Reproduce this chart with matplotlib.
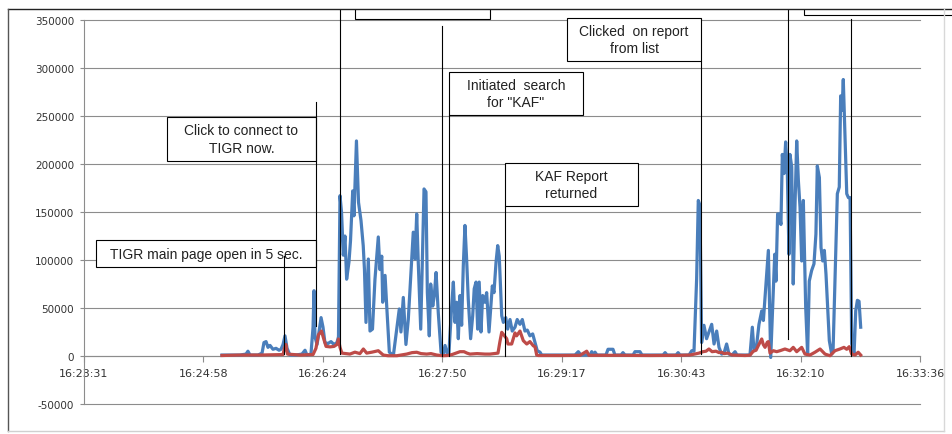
import matplotlib
matplotlib.use('Agg')
import matplotlib.pyplot as plt
from matplotlib.patches import Rectangle
from matplotlib.lines import Line2D

# time axis: seconds after 16:23:31
blue_t = [99.8, 112.9, 117.2, 118.6, 120.1, 125.9, 128.8, 130.2, 131.7, 133.1, 134.6, 136.7, 138.9, 141.1,
          142.5, 144.0, 145.4, 146.9, 149.0, 153.4, 157.7, 159.9, 161.3, 164.2, 165.7, 166.4, 167.1, 168.6,
          170.0, 171.5, 172.9, 174.3, 176.5, 178.7, 180.9, 183.0, 184.1, 185.2, 186.3, 187.6, 188.8, 190.0,
          191.7, 192.8, 194.4, 195.3, 197.1, 198.6, 200.4, 202.0, 202.9, 204.0, 205.7, 206.9, 208.7, 210.5,
          212.9, 214.1, 215.4, 216.1, 217.8, 219.0, 220.9, 223.8, 226.2, 228.1, 229.3, 231.0, 232.9, 234.6,
          237.0, 238.2, 239.5, 240.7, 241.8, 243.6, 246.0, 247.4, 248.4, 249.8, 250.8, 252.3, 253.4, 254.7,
          256.3, 258.3, 259.7, 261.2, 262.8, 264.0, 266.0, 267.2, 268.4, 269.6, 270.8, 272.0, 273.2, 274.4,
          275.6, 276.8, 278.0, 279.7, 281.2, 282.3, 283.6, 284.8, 285.9, 287.2, 288.4, 290.0, 291.3, 293.0,
          294.2, 295.4, 296.6, 298.1, 299.3, 300.4, 302.2, 303.4, 305.1, 306.5, 308.2, 309.8, 311.8, 313.4,
          315.4, 317.1, 319.0, 320.7, 322.6, 324.6, 326.3, 327.9, 329.9, 331.1, 355.2, 357.6, 359.5, 366.1,
          367.3, 368.2, 369.7, 371.1, 377.6, 379.1, 382.7, 384.1, 388.5, 389.9, 391.4, 397.2, 398.6, 402.2,
          403.7, 418.9, 420.4, 421.8, 428.3, 429.8, 431.2, 437.7, 439.7, 441.3, 443.2, 444.4, 445.6, 446.8,
          448.5, 450.4, 452.1, 454.1, 455.8, 457.7, 459.4, 461.3, 463.0, 464.9, 466.6, 468.8, 471.0, 472.4,
          481.8, 483.5, 484.7, 486.7, 488.3, 490.3, 491.5, 493.2, 495.1, 496.8, 498.2, 499.7, 500.6, 501.8,
          503.0, 504.2, 505.2, 506.4, 507.6, 508.8, 510.0, 510.7, 512.0, 513.1, 514.4, 515.6, 516.8, 518.0,
          519.2, 520.4, 522.1, 523.5, 524.7, 526.4, 528.1, 529.5, 530.5, 532.0, 533.2, 534.4, 535.6, 536.8,
          539.2, 540.9, 541.9, 543.3, 545.0, 546.4, 547.4, 548.4, 549.3, 550.6, 551.8, 553.0, 554.2, 555.4,
          557.1, 558.3, 559.5, 560.7, 561.9]
blue_v = [1000, 1000, 2000, 5000, 1000, 1000, 3000, 14000, 15000, 9000, 11000, 7000, 8000, 6000,
          7000, 12000, 21000, 8000, 1000, 1000, 2000, 6000, 1000, 2000, 30000, 68000, 20000, 12000,
          25000, 40000, 30000, 14000, 13000, 15000, 12000, 14000, 20000, 167000, 150000, 105000, 125000, 80000,
          98000, 120000, 172000, 146000, 224000, 160000, 141000, 115000, 90000, 35000, 101000, 26000, 28000, 80000,
          124000, 90000, 104000, 56000, 84000, 52000, 4000, 500, 28000, 49000, 25000, 61000, 12000, 38000,
          98000, 129000, 101000, 148000, 98000, 28000, 174000, 171000, 66000, 21000, 75000, 52000, 63000, 87000,
          45000, 4000, 1000, 11000, 2000, 3000, 52000, 77000, 35000, 56000, 18000, 63000, 32000, 94000,
          136000, 101000, 59000, 18000, 42000, 70000, 77000, 28000, 77000, 25000, 63000, 56000, 66000, 25000,
          49000, 73000, 66000, 98000, 115000, 104000, 42000, 35000, 40000, 28000, 38000, 26000, 30000, 38000,
          33000, 38000, 26000, 27000, 21000, 23000, 14000, 5500, 4000, 1000, 1000, 4500, 1000, 1000,
          4500, 1000, 4000, 1000, 1000, 7000, 7000, 1000, 1000, 3500, 1000, 1000, 4500, 4500,
          1000, 1000, 3500, 1000, 1000, 3500, 1000, 1000, 5500, 5000, 80000, 162000, 157000, 14000,
          32000, 18000, 25000, 33000, 12500, 26000, 9000, 2000, 3000, 12500, 2000, 1000, 4500, 1000,
          1000, 30000, 5500, 12500, 33000, 47000, 37000, 72000, 110000, -1500, 51000, 106000, 78000, 148000,
          148000, 137000, 210000, 190000, 223000, 193000, 106000, 210000, 197000, 75000, 158000, 224000, 183000, 155000,
          99000, 162000, 51000, 2000, 78000, 89000, 96000, 127000, 198000, 186000, 113000, 99000, 110000, 85000,
          16000, 2000, 5000, 78000, 169000, 176000, 271000, 256000, 288000, 228000, 169000, 165000, 165000, 12500,
          2000, 47000, 58000, 57000, 30000]

red_t = [99.8, 112.9, 127.3, 144.0, 145.0, 146.1, 147.2, 156.3, 165.7, 167.8, 169.6, 171.8, 173.6, 175.1,
         178.0, 180.9, 183.0, 184.1, 185.2, 186.6, 192.4, 196.0, 199.6, 202.1, 204.5, 208.3, 212.9, 216.5,
         219.9, 226.4, 233.4, 237.3, 240.7, 243.8, 247.9, 251.0, 255.2, 259.7, 262.6, 266.2, 269.1, 272.0,
         274.9, 277.1, 279.2, 284.3, 290.1, 293.7, 299.5, 300.9, 302.2, 305.8, 306.7, 309.4, 311.8, 313.0,
         315.4, 317.8, 320.3, 322.6, 325.0, 326.3, 327.5, 328.7, 344.4, 358.8, 363.7, 365.3, 387.8, 409.5,
         431.2, 438.4, 444.9, 447.8, 450.0, 452.1, 454.4, 457.2, 459.4, 461.3, 463.0, 465.9, 468.8, 478.2,
         481.8, 484.2, 486.2, 487.8, 490.3, 491.4, 492.7, 494.3, 495.1, 496.3, 498.7, 501.1, 503.5, 507.1,
         510.7, 513.1, 515.6, 519.2, 521.6, 525.2, 528.8, 532.5, 536.1, 539.7, 543.3, 546.9, 549.8, 551.8,
         553.6, 555.4, 557.8, 560.1, 561.9]
red_v = [500, 1000, 1000, 1500, 8000, 12000, 2000, 1000, 1500, 8000, 22000, 26000, 17000, 10000,
         9500, 10000, 12000, 17700, 9000, 3000, 2000, 4000, 2500, 7300, 3000, 4000, 5500, 1000,
         300, 300, 2000, 3500, 3900, 2500, 2000, 2500, 1000, 300, 500, 1500, 3000, 4500,
         4500, 3000, 2000, 2500, 2000, 2000, 3000, 15000, 24700, 18000, 12500, 12500, 24000, 21000,
         26000, 16000, 12500, 15000, 10700, 9500, 1000, 500, 500, 700, 5000, 700, 700, 500,
         700, 1000, 3000, 4500, 5000, 7300, 4500, 5000, 3500, 3900, 2500, 3000, 1000, 500,
         800, 5000, 6000, 10700, 17700, 12000, 9000, 14300, 15000, 3000, 5500, 4500, 5500, 7300,
         5500, 9000, 4500, 9000, 2000, 1000, 3900, 7300, 2000, 300, 5500, 7300, 9000, 7000,
         9700, 2000, 1000, 3900, 1000]

tick_labels = ['16:23:31', '16:24:58', '16:26:24', '16:27:50', '16:29:17', '16:30:43', '16:32:10', '16:33:36']
tick_step = 86.4
y_ticks = [-50000, 0, 50000, 100000, 150000, 200000, 250000, 300000, 350000]

# callout boxes: text, t_left, t_right, v_bottom, v_top
notes = [
    ('TIGR main page open in 5 sec.', 8.7, 167.8, 92700, 120800),
    ('Click to connect to\nTIGR now.', 60.0, 167.8, 203100, 249000),
    ('Initiated  search\nfor "KAF"', 264.0, 361.0, 251000, 295800),
    ('Clicked  on report\nfrom list', 349.4, 446.4, 307300, 352100),
    ('KAF Report\nreturned', 304.6, 400.8, 156300, 201000),
    ('', 196.0, 293.7, 351000, 420000),
    ('', 520.9, 640.0, 355200, 420000),
]
# leader lines: t, v_from, v_to
leaders = [
    (144.7, 104200, 2000),
    (167.8, 264600, 31000),
    (185.2, 420000, 2000),
    (259.0, 343800, 0),
    (264.0, 251000, 0),
    (446.4, 307300, 2000),
    (304.6, 156300, 0),
    (509.3, 420000, 17700),
    (554.9, 351000, 0),
]

W, H = 952, 435
fig = plt.figure(figsize=(W / 100, H / 100), dpi=100)
ax = fig.add_axes([84 / W, 30 / H, 836 / W, 384 / H])

grid_c = '#8c8c8c'
ax.plot(blue_t, blue_v, color='#4a7ebb', lw=2.3, solid_joinstyle='round', zorder=3)
ax.plot(red_t, red_v, color='#be4b48', lw=2.3, solid_joinstyle='round', zorder=3)

ax.set_xlim(0, 7 * tick_step)
ax.set_ylim(-50000, 350000)
ax.set_xticks([i * tick_step for i in range(len(tick_labels))])
ax.set_xticklabels(tick_labels)
ax.set_yticks(y_ticks)
ax.set_yticklabels([str(v) for v in y_ticks])
ax.grid(axis='y', color=grid_c, lw=0.8)
for gl in ax.get_ygridlines():
    gl.set_clip_on(False)
ax.set_axisbelow(True)

for s in ['top', 'right']:
    ax.spines[s].set_visible(False)
ax.spines['bottom'].set_position(('data', 0))
ax.spines['bottom'].set_color(grid_c)
ax.spines['left'].set_color(grid_c)
ax.spines['bottom'].set_linewidth(0.8)
ax.spines['left'].set_linewidth(0.8)
ax.tick_params(axis='x', direction='out', length=4, width=0.8, color=grid_c, pad=5,
               labelsize=8, labelcolor='#333333')
ax.tick_params(axis='y', direction='out', length=3, width=0.8, color=grid_c, pad=4,
               labelsize=7.5, labelcolor='#333333')

clip_rect = Rectangle((0, 0), 1, 1 - 10 / H, transform=fig.transFigure)

for text, t0, t1, vb, vt in notes:
    box = Rectangle((t0, vb), t1 - t0, vt - vb, facecolor='white', edgecolor='black', lw=0.8, zorder=4)
    ax.add_patch(box)
    box.set_clip_path(clip_rect)
    if text:
        ax.text((t0 + t1) / 2, (vb + vt) / 2, text, ha='center', va='center', fontsize=10,
                family='Liberation Sans', color='#222222', linespacing=1.3, zorder=5, clip_on=False)

for t, v0, v1 in leaders:
    ln, = ax.plot([t, t], [v0, v1], color='black', lw=0.8, zorder=6)
    ln.set_clip_path(clip_rect)

# chart area frame
fig.add_artist(Line2D([8 / W, 1], [1 - 10 / H, 1 - 10 / H], transform=fig.transFigure, color='#222222', lw=1))
fig.add_artist(Line2D([8 / W, 8 / W], [3 / H, 1 - 10 / H], transform=fig.transFigure, color='#555555', lw=1))
fig.add_artist(Line2D([8 / W, 944 / W], [3 / H, 3 / H], transform=fig.transFigure, color='#d0d0d0', lw=1))
fig.add_artist(Line2D([944 / W, 944 / W], [3 / H, 1 - 10 / H], transform=fig.transFigure, color='#d8d8d8', lw=1))

fig.savefig('out.png', dpi=100)
